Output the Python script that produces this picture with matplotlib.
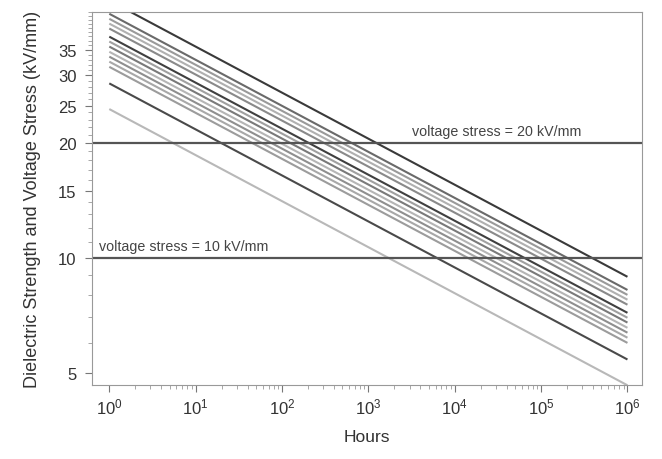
import numpy as np
import matplotlib
matplotlib.use("Agg")
import matplotlib.pyplot as plt
from matplotlib.ticker import FixedLocator, FixedFormatter, NullFormatter, LogFormatterSciNotation

plt.rcParams['font.family'] = ['Liberation Sans', 'DejaVu Sans']

# dielectric strength sample paths, value at 1 hour and at 1e6 hours (kV/mm)
hours_ends = [1.0, 1e6]
strength_1h = [47.1, 43.5, 42.2, 41.0, 39.8, 37.9, 36.8, 35.7, 34.6, 33.6, 32.6, 31.6, 28.6, 24.5]
strength_1e6h = [8.92, 8.24, 8.00, 7.77, 7.54, 7.18, 6.97, 6.77, 6.56, 6.37, 6.18, 5.99, 5.42, 4.64]
line_grey = ['#3a3a3a', '#6a6a6a', '#9a9a9a', '#b0b0b0', '#8a8a8a', '#404040', '#a0a0a0',
             '#7a7a7a', '#b5b5b5', '#8f8f8f', '#a8a8a8', '#9c9c9c', '#4a4a4a', '#b8b8b8']

stress_levels = [20, 10]
stress_labels = ['voltage stress = 20 kV/mm', 'voltage stress = 10 kV/mm']

x_major = [1e0, 1e1, 1e2, 1e3, 1e4, 1e5, 1e6]
y_major = [5, 10, 15, 20, 25, 30, 35]


def main():
    fig = plt.figure(figsize=(6.62, 4.6), dpi=100)
    ax = fig.add_axes([0.139, 0.161, 0.831, 0.811])

    for s0, s1, c in zip(strength_1h, strength_1e6h, line_grey):
        ax.plot(hours_ends, [s0, s1], color=c, lw=1.5, solid_capstyle='butt')

    for lvl in stress_levels:
        ax.axhline(lvl, color='#555555', lw=1.6)

    ax.text(10 ** 3.5, 20 * 1.03, stress_labels[0], fontsize=10.3, color='#444444', va='bottom')
    ax.text(10 ** -0.12, 10 * 1.03, stress_labels[1], fontsize=10.3, color='#444444', va='bottom')

    ax.set_xscale('log')
    ax.set_yscale('log')
    ax.set_xlim(10 ** -0.2, 10 ** 6.17)
    ax.set_ylim(4.65, 44.0)

    x_minor = [m * d for d in x_major[:-1] for m in range(2, 10)]
    ax.xaxis.set_major_locator(FixedLocator(x_major))
    ax.xaxis.set_major_formatter(LogFormatterSciNotation())
    ax.xaxis.set_minor_locator(FixedLocator(x_minor))
    ax.xaxis.set_minor_formatter(NullFormatter())

    ax.yaxis.set_major_locator(FixedLocator(y_major))
    ax.yaxis.set_minor_locator(FixedLocator(list(range(5, 45))))
    ax.yaxis.set_major_formatter(FixedFormatter([str(v) for v in y_major]))
    ax.yaxis.set_minor_formatter(NullFormatter())

    ax.tick_params(which='major', direction='out', length=5, color='#777777', labelsize=12, labelcolor='#333333')
    ax.tick_params(which='minor', direction='out', length=3, color='#999999')
    ax.tick_params(axis='y', which='major', pad=6)
    for sp in ax.spines.values():
        sp.set_color('#999999')

    ax.set_xlabel('Hours', fontsize=12.5, color='#333333', labelpad=9)
    ax.set_ylabel('Dielectric Strength and Voltage Stress (kV/mm)', fontsize=13, color='#333333', labelpad=12)

    fig.savefig('out.png', dpi=100)


if __name__ == '__main__':
    main()
